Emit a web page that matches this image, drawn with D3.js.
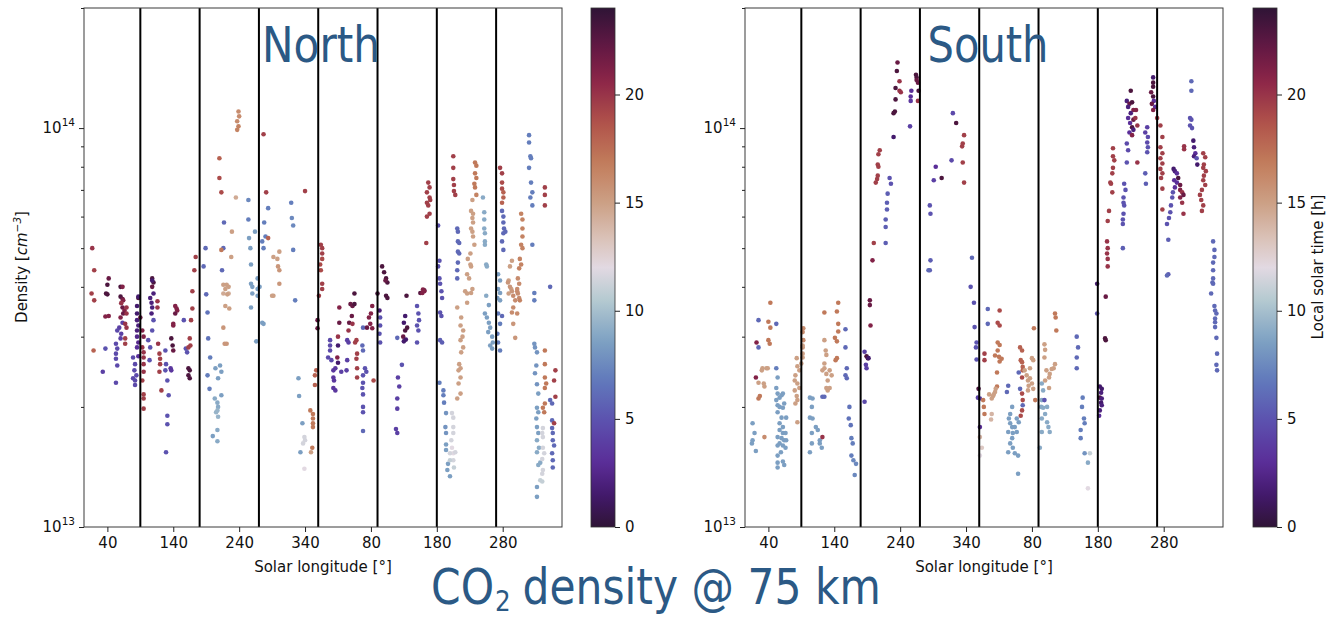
<!DOCTYPE html>
<html>
<head>
  <meta charset="utf-8">
  <title>CO2 density @ 75 km</title>
  <style>
    body { margin: 0; background: #fff; }
    text { font-family: "DejaVu Sans", sans-serif; }
  </style>
</head>
<body>
  <svg id="chart"></svg>
  <script src="https://d3js.org/d3.v7.min.js"></script>
  <script>
    // each point: [solar longitude (deg, counted on over two Mars years), density (1e13 cm^-3), local solar time (h)]
    const northPoints = [
      [17,5.0,20],[20,4.4,19.5],[42,4.2,22],[40,4.05,23],[60,4.0,23],[63,4.0,21],[38,3.85,23],[16,3.85,19.5],[87,3.75,23],[108,4.2,23],[110,4.1,23],[108,4.0,22],[169,3.9,19.5],[172,4.4,19.5],[174,4.75,19.5],[189,5.0,6],[186,4.5,6],[190,3.83,6],[210,8.4,18],[210,7.5,19],[213,6.9,19],[217,5.8,6],[216,5.0,6],[213,4.95,17],[214,4.4,6],[216,4.05,15],[221,4.05,15],[224,4.0,15],[219,3.95,15],[224,3.85,14.5],[216,3.85,14.5],[235,6.7,14.5],[229,5.5,15],[228,4.75,15],[239,11.0,16],[240,10.7,16],[237,10.4,16],[239,10.1,16.5],[237,9.9,16.5],[254,6.6,7.5],[254,5.9,7],[255,5.3,8.5],[257,5.0,8.5],[264,5.5,8.5],[258,4.55,8.5],[258,4.07,8.5],[260,4.0,8.5],[268,4.2,8.5],[268,3.95,8.5],[260,3.85,8.5],[277,9.65,19.5],[281,6.9,19.5],[284,6.3,7],[278,5.8,7],[280,5.35,7],[284,5.3,18],[277,5.0,7],[275,5.2,7],[292,4.75,15],[298,4.7,15],[301,4.9,15],[299,4.5,15.5],[301,4.4,15.5],[301,4.07,15.5],[292,3.8,15],[319,6.5,7],[320,5.95,7.5],[322,5.7,7.5],[322,4.95,7],
      [340,6.95,19.5],[364,5.1,19.5],[366,5.0,19.5],[366,4.85,19.5],[366,4.7,19],[363,4.55,19],[364,4.4,19],[366,4.07,19.5],[366,3.95,19.5],[361,3.8,19.5],[415,3.85,23],[457,4.5,23],[460,4.35,23],[463,4.2,23],[465,4.1,23],[462,4.15,22],[463,3.8,23],[465,3.75,23],[494,3.8,23],[515,3.86,22.5],[521,3.92,22.5],[527,7.3,19.5],[529,7.1,19.5],[525,6.9,19.5],[529,6.7,19.5],[530,6.6,19.5],[525,6.5,19.5],[527,6.4,19.5],[525,6.0,19.5],[529,6.1,19.5],[524,5.15,19.5],[542,5.7,5],[544,4.65,5],[542,4.5,5],[544,4.2,5],[545,4.07,5],[547,3.9,5],[548,3.75,5],[565,8.5,19.5],[565,7.95,19.5],[565,7.45,19.5],[566,7.2,19.5],[566,6.95,19.5],[568,6.8,19.5],[571,5.6,6],[572,5.5,6],[572,5.2,6],[574,5.15,6],[572,4.9,6],[574,4.85,6],[572,4.6,6],[571,4.4,6],[571,4.2,6],[598,8.2,17],[600,8.05,17],[598,7.7,17],[600,7.5,17],[597,7.25,17],[598,7.1,17],[600,6.8,16.5],[594,6.6,15],[592,6.2,15],[595,6.1,15],[594,5.95,15],[595,5.8,15],[592,5.6,15],[594,5.5,15],[595,5.35,15],[597,5.1,15],[591,4.85,15],[587,4.7,15],[591,4.55,15],[592,4.5,15],[586,4.3,15],[589,4.2,15],[610,6.7,9],[612,6.15,9],[612,5.9,9],[612,5.6,9],[613,5.45,9],[613,5.2,9],[613,5.1,9],[615,4.55,9],[616,4.5,9],[615,3.8,9],[636,7.95,19.5],[639,7.7,19.5],[639,7.3,19],[639,7.05,19],[641,6.9,18],[641,6.7,18],[639,6.5,18],[639,6.2,6],[641,6.0,6],[641,5.8,6],[642,5.6,6],[644,5.5,6],[641,5.45,6],[639,5.2,6],[641,4.95,6],[633,4.3,8.5],[636,4.15,8.5],[633,3.95,8.5],[636,3.86,8.5],[632,3.75,8.5],[668,6.1,16.5],[670,5.9,16.5],[670,5.6,16.5],[670,5.35,16.5],[668,5.1,16.5],[670,5.0,16.5],[666,4.7,16.5],[668,4.55,16.5],[665,4.45,16.5],[663,4.2,16],[665,4.07,16],[662,3.9,16],[665,3.75,16],[654,4.65,15],[651,4.5,15],[649,4.15,15],[653,3.95,15],[649,3.85,15],[680,9.6,7],[680,9.2,7],[682,8.5,7],[683,8.4,7],[680,7.95,7],[683,7.3,7],[685,6.9,7],[682,6.7,7],[685,6.4,7],[685,5.1,7],[688,3.86,7],[704,7.1,19.5],[704,6.8,19.5],[704,6.4,19.5],[712,4.0,6],
      [325,3.7,7],[359,3.3,22],[359,3.15,22],[357,2.47,18],[355,2.4,18],[355,2.27,18],[330,2.36,8.5],[331,2.13,8.5],[336,1.82,8.5],[339,1.68,11.5],[340,1.65,11.5],[337,1.62,11.5],[333,1.54,8.5],[339,1.4,12],[348,1.96,17],[352,1.92,17],[352,1.87,17],[352,1.82,17],[352,1.78,17],[351,1.58,17],[349,1.54,15],
      [378,2.94,4.5],[378,2.85,4.5],[378,2.77,4.5],[375,2.66,4.5],[380,2.62,4.5],[383,2.47,3.5],[386,2.5,3.5],[383,2.37,3.5],[384,2.33,3.5],[383,2.23,3.5],[386,2.2,3.5],[392,3.55,21],[392,3.25,22],[390,3.0,20],[390,2.85,1.5],[389,2.66,21],[390,2.58,1.5],[395,2.45,4],[404,2.94,4],[406,2.9,4],[404,2.62,4],[403,2.47,4],[409,3.62,22],[412,3.58,22],[411,3.38,22],[407,3.25,22],[406,3.11,20],[412,3.23,20],[415,3.62,23],[418,2.94,19.5],[416,2.9,19.5],[419,2.72,19.5],[418,2.64,19.5],[419,2.5,19.5],[419,2.37,19.5],[428,3.16,6],[427,2.85,6],[428,2.77,6],[431,2.5,5],[433,2.45,5],[428,2.4,5],[428,2.3,5],[427,2.23,5],[428,2.15,5],[428,2.0,5],[428,1.94,5],[428,1.74,6],[437,3.35,21],[440,3.43,21],[442,3.58,21],[439,3.23,21],[442,3.15,21],[434,3.16,22],[444,2.33,19],[450,3.85,23],[453,3.49,2],[454,3.35,5],[454,3.2,5],[453,3.05,5],[454,2.9,5],[487,2.55,5],[481,2.37,4],[483,2.25,4],[480,2.1,4],[480,1.98,4],[478,1.76,4],[480,1.72,4],[480,2.98,6],[492,3.38,1.5],[490,3.25,1.5],[492,3.11,23],[495,3.16,23],[489,3.0,22],[493,2.95,1.5],[490,2.92,1.5],[510,3.58,5],[512,3.43,5],[510,3.2,5],[513,3.3,5],[512,3.11,5],[510,2.9,5],[518,3.86,21],[519,3.94,21],[521,3.9,21],
      [545,3.45,5],[547,3.38,5],[545,2.94,5.5],[548,2.9,5.5],[544,2.3,7],[550,2.2,7],[550,2.14,7],[551,2.05,7],[554,1.93,8],[553,1.78,8],[554,1.72,8],[554,1.61,8.5],[554,1.56,8.5],[557,1.44,8.5],[556,1.39,8.5],[560,1.34,8.5],[563,1.93,11.5],[565,1.88,11.5],[565,1.78,11.5],[565,1.72,11.5],[562,1.65,11.5],[563,1.58,12],[565,1.53,12],[560,1.53,11.5],[568,1.54,11.5],[565,1.47,11.5],[560,1.47,11],[566,1.41,11],
      [571,3.55,15],[577,3.35,15],[576,3.2,15],[580,3.11,15],[579,3.0,15],[576,2.94,15],[580,2.82,15],[577,2.74,15],[574,2.56,15],[576,2.5,15],[573,2.47,15],[576,2.37,15],[573,2.29,15],[571,2.1,15],[576,2.16,15],[583,3.9,15],[586,3.85,15],[586,3.65,15],[592,3.86,15],[594,3.95,15],
      [619,3.6,8.5],[613,3.43,8.5],[616,3.35,8.5],[619,3.25,8.5],[621,3.16,8.5],[618,3.08,8.5],[624,3.0,8.5],[625,2.9,8.5],[621,2.85,8.5],[624,2.8,8.5],
      [636,3.7,8.5],[633,3.43,7],[636,3.23,7],[632,3.05,7],[633,2.9,7],[636,2.77,7],[639,3.38,6],
      [648,4.1,15.5],[651,4.0,15.5],[654,3.9,15.5],[656,3.8,16],[662,3.95,16],[663,3.85,16],[659,3.7,16],[666,3.7,16.5],[656,3.55,16],[654,3.45,16],[662,3.43,16],[656,3.23,15.5],[659,2.98,15.5],[688,3.7,7],
      [688,2.88,8],[689,2.82,8],[692,2.74,8],[691,2.54,8],[689,2.43,8],[692,2.28,8],[694,2.16,8.5],[692,1.99,8.5],[694,1.94,8.5],[691,1.87,8.5],[692,1.78,8.5],[694,1.72,8.5],[692,1.65,9],[695,1.58,9],[692,1.54,9],[697,1.45,9],[694,1.43,9],[692,1.26,8.5],[692,1.19,8.5],
      [701,1.77,11.5],[700,1.72,11.5],[701,1.68,11.5],[701,1.58,11.5],[703,1.53,11.5],[700,1.48,11.5],[701,1.39,11.5],[700,1.36,11.5],[697,1.31,11],[700,1.3,11],
      [704,2.77,17],[704,2.56,17],[704,2.37,17],[706,2.29,17],[704,2.23,17],[704,2.04,17],[701,1.99,17],[703,1.94,17],
      [712,2.08,6],[715,2.04,6],[715,1.85,6],[715,1.77,6],[716,1.72,6],[716,1.65,6],[718,1.6,6],[715,1.53,6],[716,1.47,6],[716,1.41,6],
      [720,2.47,19.5],[718,2.33,19.5],[720,2.12,19.5],[718,1.82,19.5],
      [20,3.7,19.5],[40,3.83,23],[60,3.78,23],[63,3.73,22],[64,3.7,21],[61,3.64,20],[63,3.55,22],[66,3.49,21],[64,3.43,22],[60,3.35,21],[63,3.25,4],[58,3.16,4],[61,3.05,4],[60,2.97,4],[69,3.55,20],[69,3.43,20],[67,3.23,20],[69,3.16,20],[67,2.97,19.5],[67,2.88,19.5],[55,3.11,4.5],[53,2.88,4.5],[55,2.8,4.5],[53,2.72,4.5],[53,2.64,4.5],[55,2.54,4.5],[53,2.3,4.5],[37,3.37,21],[42,3.38,21],[19,2.77,18],[37,2.8,5],[33,2.45,4],
      [79,2.66,4.5],[82,2.56,4.5],[81,2.47,4.5],[84,2.4,4.5],[79,2.36,4.5],[82,2.33,4.5],[82,2.27,4.5],
      [87,3.78,1.5],[85,3.58,1.5],[85,3.43,1.5],[85,3.3,2],[87,3.2,2],[85,3.11,2],[85,3.0,2.5],[87,2.9,2.5],[85,2.82,3],[87,2.68,3],
      [90,3.35,22],[93,3.11,21],[95,3.0,21],[93,2.82,20],[95,2.74,20],[95,2.66,20],[95,2.56,20],[95,2.45,20],[93,2.33,19.5],[95,2.15,19.5],[95,2.1,19.5],[95,1.98,19.5],
      [102,2.94,5],[105,2.82,5],[104,2.62,5],[108,3.11,5],[110,3.3,5],[108,4.15,1.5],[110,3.85,2],[105,3.75,2],[107,3.65,2],[108,3.55,2],[107,3.43,2],[116,3.68,20],[116,3.55,20],[117,2.88,20],[119,2.72,19.5],[120,2.64,19.5],[120,2.56,19.5],[119,2.45,19.5],[122,2.2,19.5],
      [128,2.77,5],[129,2.56,5],[128,2.47,5],[131,2.33,5],[133,2.14,5],[131,1.9,5],[131,1.81,5],[129,1.54,5],[136,2.5,3.5],[137,2.47,3.5],[137,2.97,23],[139,2.85,23],[140,2.77,22],[140,3.23,21],[140,3.2,21],[143,3.58,21],[146,3.49,21],[143,3.43,22],[145,3.53,21],
      [156,3.3,5],[159,2.8,5],[161,2.74,5],[163,2.5,23],[165,2.47,23],[163,2.4,23],[165,2.36,23],[165,2.97,19.5],[166,2.85,19.5],[163,2.82,19.5],[169,3.53,19.5],[167,3.3,19.5],
      [192,3.45,6.5],[193,2.97,6.5],[196,2.66,7],[192,2.4,7],[195,2.22,7],[204,2.5,8.5],[211,2.54,8.5],[213,2.45,8.5],[208,2.36,8.5],[213,2.14,8.5],[203,2.1,9],[207,2.05,9],[208,2.0,9],[205,1.94,9.5],[208,1.89,9.5],[207,1.96,9.5],[207,1.75,9],[200,1.69,8.5],[207,1.64,9],
      [222,3.83,15],[219,3.58,15],[225,3.53,15],[216,3.16,15.5],[218,2.88,15.5],[221,2.88,15.5],
      [271,4.0,8.5],[268,3.8,8.5],[258,3.55,8.5],[275,3.25,8.5],[277,3.23,8.5],[266,2.92,8.5],[290,3.8,15]
    ];

    const southPoints = [
      [236,14.6,22],[235,13.9,23],[239,13.1,20],[233,12.6,23],[239,12.4,20],[241,12.3,20],[233,11.8,23],[232,11.0,23],[230,10.9,23],[230,9.5,1.5],[264,13.6,23],[265,13.4,23],[265,13.2,22],[267,13.0,22],[257,12.4,3],[256,12.0,3],[256,11.7,3.5],[267,11.7,20],[268,12.4,23],[255,10.1,4],[209,8.8,19.5],[207,8.6,19.5],[206,8.1,19.5],[207,8.0,19.5],[206,7.6,19.5],[205,7.45,19.5],[203,7.3,19.5],[224,7.5,5],[226,7.25,5],[221,6.85,5.5],[220,6.5,5.5],[220,6.25,5.5],[218,5.9,5.5],[218,5.65,5.5],[218,5.15,5.5],[200,5.15,19.5],[198,4.66,21],[285,6.4,5],[286,6.1,5],[286,4.66,5.5],[285,4.4,5.5],[291,7.4,4],[294,8.0,3],[303,7.5,23],[320,10.9,4.5],[325,10.3,23],[318,8.3,4.5],[337,9.6,19.5],[335,9.15,19.5],[334,9.0,19.5],[335,8.2,19.5],[337,7.3,19.5],[349,4.73,6],
      [590,12.4,23],[584,11.7,2],[588,11.5,22],[592,11.6,23],[586,11.3,2],[594,11.1,21],[590,10.9,2],[586,10.6,3],[594,10.5,22],[589,10.3,3],[592,10.05,23],[594,9.9,2],[588,9.75,3],[592,9.6,21],[597,10.6,20],[600,10.15,20],[598,11.1,21],[584,9.15,4.5],[586,8.8,4.5],[584,8.2,5],[600,8.2,20],[615,10.05,4],[612,9.75,4],[616,9.5,4.5],[615,9.2,4.5],[616,8.95,5],[615,8.7,5],[612,7.7,5.5],[613,7.25,5.5],[624,13.4,1.5],[624,13.0,23],[624,12.7,23],[621,12.3,22],[624,12.0,23],[625,11.7,3],[622,11.5,22],[627,11.3,3],[624,11.1,21],[630,10.6,19.5],[635,10.15,19.5],[638,9.5,19.5],[635,8.95,19.5],[638,8.65,19.5],[635,8.4,19.5],[638,8.15,19.5],[635,7.9,19.5],[638,7.7,19.5],[636,7.5,19.5],[638,7.05,19.5],[638,6.25,19.5],[563,8.9,19.5],[563,8.5,19.5],[565,8.3,19.5],[563,7.95,19.5],[562,7.7,19.5],[559,7.3,19.5],[560,7.25,19.5],[562,6.9,19.5],[557,6.2,19.5],[555,5.85,19.5],[554,5.2,20],[555,5.0,20],[554,4.85,20],[555,4.7,20],[555,4.5,20],[580,7.25,5],[582,7.0,5],[579,6.7,5],[579,6.5,5],[580,6.4,5],[579,6.1,5],[578,5.9,5],[578,5.75,5],[578,5.0,5.5],[655,7.9,1.5],[657,7.8,2],[660,7.7,3],[662,7.5,23],[656,7.4,3],[660,7.3,3],[665,7.2,22],[657,7.1,3],[654,6.9,5],[653,6.7,5],[651,6.4,5],[650,6.15,5],[648,5.95,5],[645,5.75,5],[665,7.0,21],[668,6.9,20],[665,6.7,21],[670,6.8,22],[668,6.5,20],[670,6.1,20],[647,5.25,5.5],[647,4.3,5.5],[682,13.1,6],[682,12.4,6],[680,10.6,5],[682,10.5,5],[680,10.15,5],[683,10.0,5],[671,9.0,20],[671,8.85,20],[685,9.3,1.5],[686,8.95,2],[688,8.65,3],[686,8.5,2],[690,8.4,5],[691,8.1,1.5],[700,8.65,19.5],[703,8.45,19.5],[701,8.1,19.5],[700,7.95,19.5],[704,7.8,19.5],[701,7.6,19.5],[700,7.4,19.5],[703,7.2,19.5],[698,7.0,19.5],[695,6.8,19.5],[697,6.6,19.5],[700,6.4,19.5],[698,6.2,19.5],[715,5.2,6],[717,4.95,6],[717,4.75,6],[715,4.6,6],[715,4.4,6],[715,4.2,6],
      [43,3.65,17],[25,3.3,6],[40,3.27,17],[43,3.16,17],[52,3.23,6],[22,2.9,21],[25,2.82,6],[40,2.94,17],[42,2.88,17],[31,2.5,15],[37,2.5,15],[39,2.5,15],[30,2.47,15],[21,2.37,21],[25,2.3,15],[33,2.29,15],[34,2.25,15],[27,2.13,17],[25,2.1,17],
      [52,2.5,7],[54,2.37,8.5],[52,2.23,8.5],[54,2.16,8.5],[57,2.11,8.5],[60,2.14,8.5],[62,2.16,8.5],[52,2.08,8.5],[54,2.02,8.5],[57,2.0,8.5],[64,2.04,8.5],[62,1.99,8.5],[54,1.94,8.5],[60,1.88,8.5],[67,1.88,8.5],[57,1.82,8.5],[62,1.78,8.5],[57,1.75,8.5],[62,1.72,8.5],[66,1.72,8.5],[54,1.68,8.5],[60,1.67,8.5],[64,1.65,8.5],[57,1.62,8.5],[62,1.6,8.5],[67,1.65,8.5],[54,1.6,8.5],[59,1.54,8.5],[66,1.58,8.5],[54,1.51,8.5],[54,1.45,8.5],[64,1.43,8.5],[54,1.41,8.5],[62,1.46,8.5],
      [16,1.82,8.5],[19,1.72,8.5],[16,1.65,8.5],[15,1.62,8.5],[21,1.55,8.5],[34,1.68,16],
      [83,2.65,15],[84,2.53,15],[87,2.47,15],[81,2.4,15],[80,2.33,15],[84,2.29,15],[87,2.23,15],[80,2.2,15],[83,2.13,15],[84,2.08,15],[81,2.04,15],[90,2.57,15],[92,2.66,15],[92,2.72,15],[92,2.82,15.5],[93,2.94,16],[92,3.08,16],[93,3.15,16],[84,1.83,15],[92,2.85,15],
      [103,2.11,8.5],[107,2.1,8.5],[106,2.0,8.5],[103,1.88,8.5],[107,1.87,8.5],[112,1.78,8.5],[106,1.72,8.5],[115,1.75,8.5],[118,1.65,8.5],[118,1.62,8.5],[106,1.62,8.5],[103,1.54,8.5],[121,1.58,8.5],[122,1.68,20],[122,2.12,6],[125,2.12,6],
      [125,2.94,15],[127,2.77,15],[128,2.7,15],[125,2.57,15],[122,2.47,15],[128,2.42,15],[130,2.33,15],[133,2.23,15],[128,2.23,15],[130,2.2,15],[133,2.47,15],[136,2.4,15],[125,2.5,15],[125,3.45,17],
      [146,3.65,17],[144,3.47,17],[146,3.23,17],[146,3.09,17],[144,2.92,17],[141,2.98,17],[144,2.65,17],[142,2.62,17],
      [157,3.13,6],[157,2.82,6],[159,2.5,6],[157,2.4,6],[159,2.36,6],
      [163,2.0,6.5],[162,1.87,6.5],[165,1.8,6.5],[166,1.67,7],[168,1.62,7],[166,1.51,7],[169,1.47,7.5],[173,1.44,7.5],[171,1.35,7.5],
      [194,3.7,22],[194,3.6,22],[195,3.2,21],[186,2.75,4],[189,2.68,23],[191,2.65,23],[192,2.65,1.5],[188,2.55,4],[189,2.5,4],[186,2.06,4.5],
      [283,4.4,6],[347,4.0,5],[352,3.65,5],[353,3.17,5],[356,2.9,5],[355,2.82,5],[356,2.63,5],[373,3.52,6],[373,3.23,6],[359,2.22,23],[358,2.11,4],[361,2.1,4],[368,2.72,19.5],[368,2.62,19.5],
      [361,1.78,3],[361,1.68,14],[364,1.58,13],[361,1.51,12],[366,2.08,17],[367,2.0,17],[368,1.92,17],[391,3.49,19],[388,3.25,19],[391,3.2,19],[388,2.9,17],[391,2.86,17],[388,2.77,17],[390,2.67,17],[394,2.64,17],[391,2.6,17],[384,2.69,17],[387,2.44,17],[387,2.25,17],[385,2.22,15],[384,2.18,15],[381,2.13,15],[379,2.1,15],[382,2.15,15],[375,2.15,15],[379,1.92,14],[378,1.86,14],[404,2.26,6],[402,2.18,6],
      [422,2.82,18],[425,2.77,18],[423,2.62,18],[425,2.59,18],[426,2.52,18],[426,2.47,18],[420,2.44,6],[425,2.37,19],[422,2.22,6],[425,2.16,19],[426,2.08,19],[426,2.02,6],[425,1.96,19],[423,1.9,19],
      [429,2.47,15],[432,2.4,15],[434,2.33,15],[437,2.36,15],[435,2.26,15],[440,2.29,15],[442,2.22,15],[434,2.2,15],[440,2.65,15],[442,2.62,15],[437,2.5,15],[443,3.15,17],[445,2.08,17],
      [410,2.0,8.5],[407,1.92,8.5],[405,1.87,8.5],[407,1.82,8.5],[410,1.78,8.5],[404,1.73,8.5],[411,1.72,8.5],[417,1.73,8.5],[414,1.78,8.5],[420,1.83,8.5],[417,1.87,8.5],[410,1.67,8.5],[407,1.62,8.5],[411,1.58,8.5],[404,1.54,8.5],[414,1.53,8.5],[419,1.51,8.5],[419,1.36,8.5],
      [455,2.29,9],[457,2.2,9],[455,2.08,9],[454,2.0,9],[457,1.99,9],[463,2.0,9],[460,1.92,9],[455,1.87,9],[463,1.83,9],[465,1.78,9],[467,1.73,9],[455,1.73,9],[452,1.58,9],
      [459,2.87,15],[460,2.78,15],[459,2.66,15],[462,2.47,15],[467,2.42,15],[466,2.37,15],[460,2.33,15],[466,2.23,15],[470,2.49,15],[473,2.5,15],[475,2.56,15],[475,3.43,17],[476,3.35,17],[477,3.11,17],[459,2.08,5],
      [508,3.0,6],[510,2.82,6],[508,2.66,6],[508,2.5,6],[517,2.11,7],[516,2.0,7],[519,1.87,7],[520,1.82,7],[514,1.75,7],[514,1.67,7],[520,1.53,8],[528,1.53,11],[525,1.45,9],[525,1.25,12],
      [552,3.78,22],[551,2.97,23],[552,2.94,23],[543,2.25,1.5],[546,2.22,1.5],[545,2.17,2],[543,2.11,23],[546,2.1,2],[545,2.05,1.5],[546,2.02,2],[543,1.96,2],[542,1.9,3],[539,4.07,1.5],[539,3.43,5],[645,4.27,6],
      [714,4.1,6],[715,4.07,6],[712,3.85,6],[717,3.58,6],[718,3.49,6],[720,3.43,6],[718,3.33,6],[718,3.26,6],[718,3.17,6],[720,2.98,6],[721,2.72,6],[720,2.55,6],[721,2.47,6]
    ];

    const lsTicks = [40, 140, 240, 340, 440, 540, 640];       // shown modulo 360
    const seasonLines = [90, 180, 270, 360, 450, 540, 630];
    const densityTicks = [1e13, 1e14];
    const densityMinor = [2e13, 3e13, 4e13, 5e13, 6e13, 7e13, 8e13, 9e13, 2e14];
    const lstTicks = [0, 5, 10, 15, 20];

    const width = 1327, height = 619;
    const plotTop = 8, plotBottom = 527;
    const titleColor = "#2b5985";
    const titleFont = "DejaVu Sans Condensed, DejaVu Sans, sans-serif";

    const svg = d3.select("#chart").attr("width", width).attr("height", height);
    svg.append("rect").attr("width", width).attr("height", height).attr("fill", "#fff");

    // rough copy of matplotlib twilight_shifted
    const cmap = [
      [0.00, "#2f1436"], [0.06, "#42196a"], [0.12, "#5a2c96"], [0.20, "#5c4fae"],
      [0.28, "#6078bb"], [0.36, "#7ea2c3"], [0.44, "#b7cbd1"], [0.50, "#e2d9e2"],
      [0.56, "#d9c0b5"], [0.62, "#cda288"], [0.70, "#c27d5c"], [0.78, "#b0524a"],
      [0.86, "#8c2548"], [0.93, "#5f1843"], [1.00, "#2f1436"]
    ];
    const zScale = d3.scaleLinear()
      .domain(cmap.map(d => d[0] * 24))
      .range(cmap.map(d => d[1]))
      .clamp(true);

    const defs = svg.append("defs");
    const grad = defs.append("linearGradient").attr("id", "lstGrad")
      .attr("x1", 0).attr("y1", 1).attr("x2", 0).attr("y2", 0);
    grad.selectAll("stop").data(d3.range(0, 24.01, 0.5)).join("stop")
      .attr("offset", d => d / 24)
      .attr("stop-color", d => zScale(d));

    function styleAxis(g) {
      g.select(".domain").remove();
      g.selectAll(".tick line").attr("stroke", "#222");
      g.selectAll(".tick text").attr("font-size", 15).attr("fill", "#111")
        .attr("font-family", "DejaVu Sans, sans-serif");
    }

    // squeeze a group of texts horizontally so it spans the wanted width
    function fitWidth(g, x, y, wanted) {
      const w = g.node().getBBox().width;
      g.attr("transform", `translate(${x}, ${y}) scale(${wanted / w}, 1)`);
    }

    function drawPanel(points, o) {
      const xScale = d3.scaleLinear().domain([4.5, 730]).range([o.left, o.right]);
      const yScale = d3.scaleLog().domain([1e13, 2e14]).range([plotBottom, plotTop]);
      const g = svg.append("g");

      g.append("g").selectAll("circle")
        .data(points)
        .join("circle")
        .attr("cx", d => xScale(d[0]))
        .attr("cy", d => yScale(d[1] * 1e13))
        .attr("r", 2.3)
        .attr("fill", d => zScale(d[2]));

      g.append("g").selectAll("line")
        .data(seasonLines)
        .join("line")
        .attr("x1", d => xScale(d)).attr("x2", d => xScale(d))
        .attr("y1", plotTop).attr("y2", plotBottom)
        .attr("stroke", "#000").attr("stroke-width", 2);

      g.append("rect")
        .attr("x", o.left).attr("y", plotTop)
        .attr("width", o.right - o.left).attr("height", plotBottom - plotTop)
        .attr("fill", "none").attr("stroke", "#3a3a3a").attr("stroke-width", 1);

      g.append("g")
        .attr("transform", `translate(0, ${plotBottom})`)
        .call(d3.axisBottom(xScale).tickValues(lsTicks).tickFormat(d => d % 360).tickSize(5).tickPadding(5))
        .call(styleAxis);

      g.append("g")
        .attr("transform", `translate(${o.left}, 0)`)
        .call(d3.axisLeft(yScale).tickValues(densityTicks).tickFormat("").tickSize(5))
        .call(styleAxis);

      g.append("g")
        .attr("transform", `translate(${o.left}, 0)`)
        .call(d3.axisLeft(yScale).tickValues(densityMinor).tickFormat("").tickSize(3))
        .call(styleAxis);

      densityTicks.forEach(v => {
        const t = g.append("text")
          .attr("x", o.left - 9).attr("y", yScale(v) + 5)
          .attr("text-anchor", "end").attr("font-size", 15).attr("fill", "#111");
        t.append("tspan").text("10");
        t.append("tspan").attr("dy", -7).attr("font-size", 10.5).text(Math.round(Math.log10(v)));
      });

      g.append("text")
        .attr("x", (o.left + o.right) / 2).attr("y", 572)
        .attr("text-anchor", "middle").attr("font-size", 15).attr("fill", "#111")
        .text("Solar longitude [°]");

      const tg = g.append("g");
      tg.append("text")
        .attr("text-anchor", "middle")
        .attr("font-family", titleFont)
        .attr("font-size", 50).attr("fill", titleColor)
        .text(o.title);
      fitWidth(tg, o.titleX, 62, o.titleW);

      // colorbar
      const cScale = d3.scaleLinear().domain([0, 24]).range([plotBottom, plotTop]);
      g.append("rect")
        .attr("x", o.cbLeft).attr("y", plotTop)
        .attr("width", 24).attr("height", plotBottom - plotTop)
        .attr("fill", "url(#lstGrad)").attr("stroke", "#333").attr("stroke-width", 0.8);
      g.append("g")
        .attr("transform", `translate(${o.cbLeft + 24}, 0)`)
        .call(d3.axisRight(cScale).tickValues(lstTicks).tickSize(5).tickPadding(5))
        .call(styleAxis);
    }

    drawPanel(northPoints, { left: 84, right: 562, cbLeft: 591, title: "North", titleX: 321, titleW: 118 });
    drawPanel(southPoints, { left: 745, right: 1223, cbLeft: 1253, title: "South", titleX: 988, titleW: 121 });

    // y label on the left panel only
    const yl = svg.append("text")
      .attr("transform", "translate(27, 267) rotate(-90)")
      .attr("text-anchor", "middle").attr("font-size", 15).attr("fill", "#111");
    yl.append("tspan").text("Density [");
    yl.append("tspan").attr("font-style", "italic").text("cm");
    yl.append("tspan").attr("font-style", "italic").attr("font-size", 10.5).attr("dy", -6).text("−3");
    yl.append("tspan").attr("dy", 6).text("]");

    svg.append("text")
      .attr("transform", "translate(1323, 267) rotate(-90)")
      .attr("text-anchor", "middle").attr("font-size", 15).attr("fill", "#111")
      .text("Local solar time [h]");

    // bottom title, built from three pieces so the subscript sits right
    const bt = svg.append("g").attr("font-family", titleFont).attr("fill", titleColor);
    const co = bt.append("text").attr("font-size", 50).text("CO");
    let cursor = co.node().getComputedTextLength() + 1;
    const sub = bt.append("text").attr("x", cursor).attr("y", 7).attr("font-size", 29).text("2");
    cursor += sub.node().getComputedTextLength() + 14;
    bt.append("text").attr("x", cursor).attr("font-size", 50).text("density @ 75 km");
    fitWidth(bt, 431, 604, 450);
  </script>
</body>
</html>
